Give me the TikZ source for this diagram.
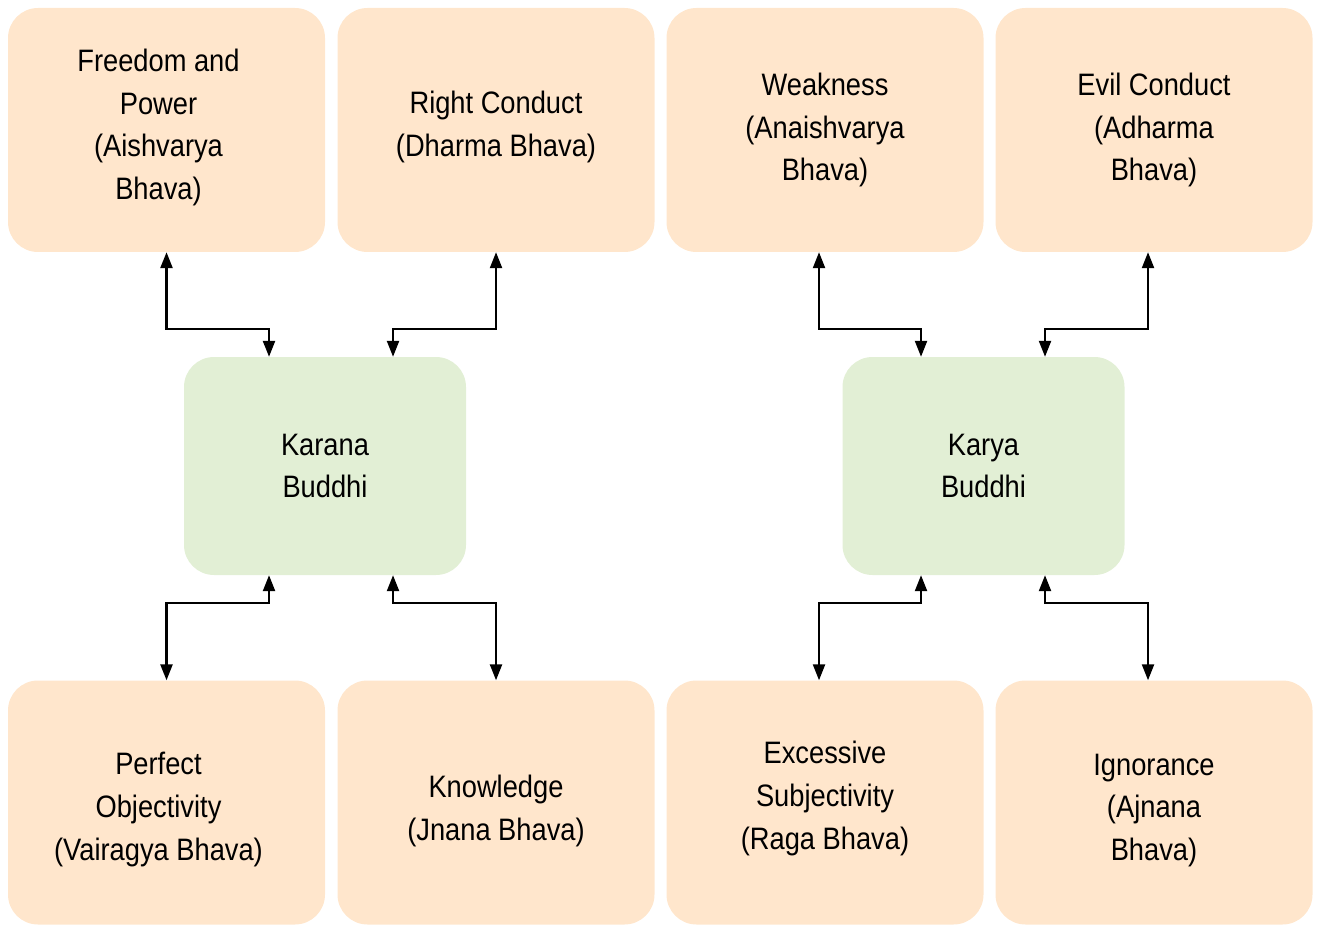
\documentclass[tikz,border=0pt]{standalone}
\usepackage{fontspec}
\setmainfont[FakeStretch=0.88]{Liberation Sans}
\usetikzlibrary{arrows.meta}
\definecolor{peach}{HTML}{FFE6CC}
\definecolor{paleg}{HTML}{E2EFD5}
\tikzset{
  bhava/.style={rectangle, rounded corners=30pt, fill=peach, draw=none,
    minimum width=317pt, minimum height=244pt, inner sep=0pt},
  buddhi/.style={bhava, fill=paleg, minimum width=282pt, minimum height=218pt},
  txt/.style={align=center, inner sep=0pt, font=\fontsize{31}{42.7}\selectfont},
  link/.style={line width=2.3pt, {Triangle[length=16pt,width=12pt]}-{Triangle[length=16pt,width=12pt]}}
}
\begin{document}
\begin{tikzpicture}[x=1pt,y=-1pt]
\useasboundingbox (0,0) rectangle (1317,925);
% top row
\node[bhava] (fp) at (166.5,130) {};
\node[bhava] (rc) at (496,130) {};
\node[bhava] (wk) at (825,130) {};
\node[bhava] (ec) at (1154,130) {};
% middle
\node[buddhi] (kar) at (325,466) {};
\node[buddhi] (kay) at (983.5,466) {};
% bottom row
\node[bhava] (po) at (166.5,802.5) {};
\node[bhava] (kn) at (496,802.5) {};
\node[bhava] (es) at (825,802.5) {};
\node[bhava] (ig) at (1154,802.5) {};
% texts
\node[txt] (fpt) at ([xshift=-8pt,yshift=2.5pt]fp.center) {Freedom and\\Power\\(Aishvarya\\Bhava)};
\node[txt] (rct) at ([yshift=3pt]rc.center) {Right Conduct\\(Dharma Bhava)};
\node[txt] (wkt) at (wk.center) {Weakness\\(Anaishvarya\\Bhava)};
\node[txt] (ect) at (ec.center) {Evil Conduct\\(Adharma\\Bhava)};
\node[txt] (kart) at (kar.center) {Karana\\Buddhi};
\node[txt] (kayt) at (kay.center) {Karya\\Buddhi};
\node[txt] (pot) at ([xshift=-8pt,yshift=-7pt]po.center) {Perfect\\Objectivity\\(Vairagya Bhava)};
\node[txt] (knt) at ([yshift=-8.5pt]kn.center) {Knowledge\\(Jnana Bhava)};
\node[txt] (est) at ([yshift=4pt]es.center) {Excessive\\Subjectivity\\(Raga Bhava)};
\node[txt] (igt) at ([yshift=-8pt]ig.center) {Ignorance\\(Ajnana\\Bhava)};
% connectors top
\draw[link] (fp.south) -- (fp.south |- 0,329) -| ([xshift=-56pt]kar.north);
\draw[link] (rc.south) -- (rc.south |- 0,329) -| ([xshift=68pt]kar.north);
\draw[link] ([xshift=-6pt]wk.south) -- ([xshift=-6pt]wk.south |- 0,329) -| ([xshift=-62.5pt]kay.north);
\draw[link] ([xshift=-6pt]ec.south) -- ([xshift=-6pt]ec.south |- 0,329) -| ([xshift=61.5pt]kay.north);
% connectors bottom
\draw[link] (po.north) -- (po.north |- 0,603) -| ([xshift=-56pt]kar.south);
\draw[link] (kn.north) -- (kn.north |- 0,603) -| ([xshift=68pt]kar.south);
\draw[link] ([xshift=-6pt]es.north) -- ([xshift=-6pt]es.north |- 0,603) -| ([xshift=-62.5pt]kay.south);
\draw[link] ([xshift=-6pt]ig.north) -- ([xshift=-6pt]ig.north |- 0,603) -| ([xshift=61.5pt]kay.south);
\end{tikzpicture}
\end{document}
